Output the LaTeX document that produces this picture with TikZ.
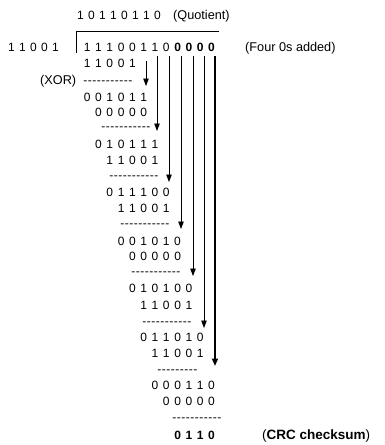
\documentclass[tikz,border=0pt]{standalone}
\usepackage{fontspec}
\setmainfont{Liberation Sans}
\usetikzlibrary{arrows.meta}

% set each character of a string in a box of fixed width
\makeatletter
\newcommand\spreadchars[2]{\@tfor\sc@c:=#2\do{\makebox[#1][c]{\sc@c}}}
\makeatother
\newcommand\bits[1]{\spreadchars{11.3pt}{#1}}
\newcommand\hyph[1]{\spreadchars{4.5pt}{#1}}

\begin{document}
\begin{tikzpicture}[x=1pt,y=-1pt,
  txt/.style={inner sep=0pt,anchor=west,font=\fontsize{12}{14}\selectfont},
  dsh/.style={inner sep=0pt,anchor=base west,font=\fontsize{12}{14}\selectfont},
  lbl/.style={inner sep=0pt,anchor=base west,font=\fontsize{12.7}{15}\selectfont},
  arr/.style={line width=0.9pt,-{Triangle[length=7.5pt,width=5.5pt]}},
  lastarr/.style={line width=1.7pt,-{Triangle[length=7.5pt,width=6pt]}},
  frame/.style={line width=0.8pt}]
\useasboundingbox (0,0) rectangle (384,445);

% quotient and divisor
\node[txt] (quot)  at (74.7,15) {\spreadchars{11pt}{10110110}};
\node[lbl] (quotl) at (173,19.5) {(Quotient)};
\node[txt] (divr)  at (5.7,47)  {\spreadchars{11pt}{11001}};
\node[txt] (divd)  at (81.35,47) {\bits{11100110}\textbf{\bits{0000}}};
\node[lbl] (addl)  at (245,51.5) {(Four 0s added)};

% division bracket
\coordinate (bl) at (76,53);
\coordinate (tl) at (76,31);
\coordinate (tr) at (219,31);
\draw[frame] (bl) -- (tl) -- (tr);

% long division steps (dash rows share the baseline of their text line)
\node[txt] (r3)  at (81.35,63)  {\bits{11001}};
\node[lbl] (xor) at (40,84.5) {(XOR)};
\node[dsh] (d1)  at (83,84.5)  {\hyph{-----------}};
\node[txt] (r4)  at (81.35,97)  {\bits{001011}};
\node[txt] (r5)  at (92.65,112) {\bits{00000}};
\node[dsh] (d2)  at (101,130) {\hyph{-----------}};
\node[txt] (r6)  at (92.65,144) {\bits{010111}};
\node[txt] (r7)  at (103.95,160) {\bits{11001}};
\node[dsh] (d3)  at (109,179) {\hyph{-----------}};
\node[txt] (r8)  at (103.95,192) {\bits{011100}};
\node[txt] (r9)  at (115.25,208) {\bits{11001}};
\node[dsh] (d4)  at (120,227) {\hyph{-----------}};
\node[txt] (r10) at (115.25,241) {\bits{001010}};
\node[txt] (r11) at (126.55,256) {\bits{00000}};
\node[dsh] (d5)  at (131,275) {\hyph{-----------}};
\node[txt] (r12) at (126.55,288) {\bits{010100}};
\node[txt] (r13) at (137.85,305) {\bits{11001}};
\node[dsh] (d6)  at (142,325) {\hyph{-----------}};
\node[txt] (r14) at (137.85,337) {\bits{011010}};
\node[txt] (r15) at (149.15,353) {\bits{11001}};
\node[dsh] (d7)  at (157,373) {\hyph{---------}};
\node[txt] (r16) at (149.15,385) {\bits{000110}};
\node[txt] (r17) at (160.45,401) {\bits{00000}};
\node[dsh] (d8)  at (172,421) {\hyph{-----------}};
\node[txt] (r18) at (171.75,435) {\textbf{\bits{0110}}};
\node[lbl,font=\fontsize{13.5}{16}\selectfont] (crcl) at (262,439.8) {(\textbf{CRC checksum})};

% bring-down arrows
\coordinate (s1) at (146,61);  \coordinate (e1) at (146,86);
\coordinate (s2) at (157,56);  \coordinate (e2) at (157,131);
\coordinate (s3) at (169,56);  \coordinate (e3) at (169,182);
\coordinate (s4) at (181,56);  \coordinate (e4) at (181,229);
\coordinate (s5) at (193,56);  \coordinate (e5) at (193,276);
\coordinate (s6) at (204,56);  \coordinate (e6) at (204,328);
\coordinate (s7) at (215,56);  \coordinate (e7) at (215,366);
\draw[arr] (s1) -- (e1);
\draw[arr] (s2) -- (e2);
\draw[arr] (s3) -- (e3);
\draw[arr] (s4) -- (e4);
\draw[arr] (s5) -- (e5);
\draw[arr] (s6) -- (e6);
\draw[lastarr] (s7) -- (e7);
\end{tikzpicture}
\end{document}
